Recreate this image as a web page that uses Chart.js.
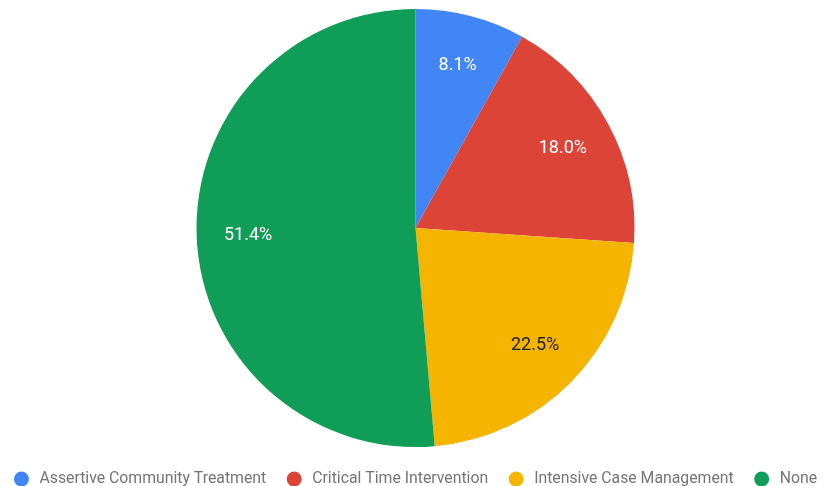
<!DOCTYPE html>
<html>
<head>
<meta charset="utf-8">
<script src="https://cdn.jsdelivr.net/npm/chart.js@4.4.0/dist/chart.umd.min.js"></script>
<style>
  html, body { margin: 0; padding: 0; background: #fff; }
  #wrap { width: 825px; height: 486px; }
</style>
</head>
<body>
<div id="wrap"><canvas id="pieCanvas"></canvas></div>
<script>
const programs = ['Assertive Community Treatment', 'Critical Time Intervention', 'Intensive Case Management', 'None'];
const shares = [8.1, 18.0, 22.5, 51.4];
const sliceColors = ['#4285F4', '#DB4437', '#F4B400', '#0F9D58'];
const labelColors = ['#ffffff', '#ffffff', '#222222', '#ffffff'];

// percentage text inside each slice
const sliceLabels = {
  id: 'sliceLabels',
  afterDatasetsDraw(chart) {
    let ctx = chart.ctx;
    let meta = chart.getDatasetMeta(0);
    ctx.save();
    ctx.font = '18px Roboto';
    ctx.textAlign = 'center';
    ctx.textBaseline = 'middle';
    meta.data.forEach(function (arc, i) {
      let mid = (arc.startAngle + arc.endAngle) / 2;
      let r = arc.outerRadius * 0.765;
      ctx.fillStyle = labelColors[i];
      ctx.fillText(shares[i].toFixed(1) + '%', arc.x + Math.cos(mid) * r, arc.y + Math.sin(mid) * r);
    });
    ctx.restore();
  }
};

// one-row legend under the pie: round swatch, then the label
const bottomLegend = {
  id: 'bottomLegend',
  afterDraw(chart) {
    let ctx = chart.ctx;
    let dotR = 7.5, dotToText = 18, gap = 28;
    let y = chart.height - 7;
    ctx.save();
    ctx.font = '15.8px Roboto';
    ctx.textBaseline = 'middle';
    ctx.textAlign = 'left';
    let widths = programs.map(function (p) { return ctx.measureText(p).width; });
    let total = dotR + dotToText * programs.length + widths.reduce(function (a, b) { return a + b; }, 0) + gap * (programs.length - 1);
    let x = chart.chartArea.left + (chart.chartArea.right - chart.chartArea.left) / 2 - total / 2 + dotR;
    programs.forEach(function (p, i) {
      ctx.fillStyle = sliceColors[i];
      ctx.beginPath();
      ctx.arc(x, y, dotR, 0, Math.PI * 2);
      ctx.fill();
      ctx.fillStyle = '#757575';
      ctx.fillText(p, x + dotToText, y);
      x += dotToText + widths[i] + gap;
    });
    ctx.restore();
  }
};

let pieCtx = document.getElementById('pieCanvas').getContext('2d');
let pieChart = new Chart(pieCtx, {
  type: 'pie',
  data: {
    labels: programs,
    datasets: [{
      data: shares,
      backgroundColor: sliceColors,
      borderWidth: 0,
      radius: 219
    }]
  },
  options: {
    responsive: true,
    maintainAspectRatio: false,
    animation: false,
    layout: { padding: { top: 0, left: 6, right: 0, bottom: 30 } },
    plugins: {
      tooltip: { enabled: false },
      legend: { display: false }
    }
  },
  plugins: [sliceLabels, bottomLegend]
});
</script>
</body>
</html>
